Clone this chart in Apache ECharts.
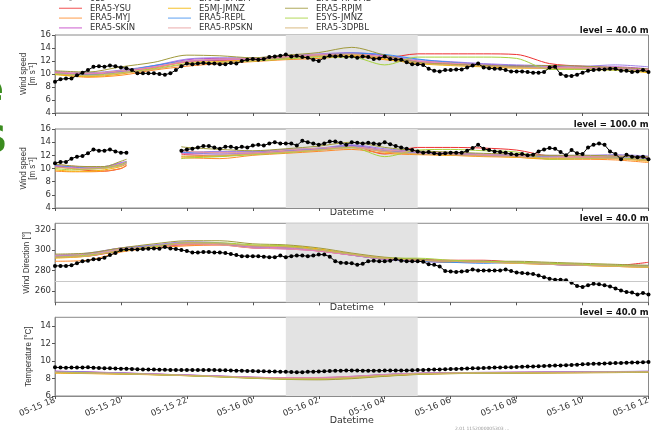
<!DOCTYPE html>
<html>
<head>
<meta charset="utf-8">
<script src="https://cdn.jsdelivr.net/npm/echarts@6/dist/echarts.min.js"></script>
<style>
html,body{margin:0;padding:0;background:#fff;}
#chart{width:654px;height:432px;}
</style>
</head>
<body>
<div id="chart"></div>
<script>
// ---- names, colours, legend layout ----
const MODEL_NAMES = ['ERA5-YSU','ERA5-MYJ','ERA5-SKIN','ERA5-UMEM','E5MJ-JMNZ','ERA5-REPL',
                     'ERA5-RPSKN','ERA5-RPUML','ERA5-RPJM','E5YS-JMNZ','ERA5-3DPBL'];
const MODEL_COLORS = ['#ee3030','#ff8a2a','#c23ec4','#9c80e6','#f5b400','#3d8ff0',
                      '#e69a9a','#e27cc0','#a09a3c','#a6d23c','#d2ae6a'];
const LEGEND_COLUMNS = [
  ['obs','ERA5-YSU','ERA5-MYJ','ERA5-SKIN'],
  ['ERA5-UMEM','E5MJ-JMNZ','ERA5-REPL','ERA5-RPSKN'],
  ['ERA5-RPUML','ERA5-RPJM','E5YS-JMNZ','ERA5-3DPBL']
];

// ---- time axis: hours after 05-15 18:00 ----
const START_DAY = 15, START_HOUR = 18;
const X_TICKS_EVERY_H = 2;
const OBS_STEP_H = 1 / 6;               // observations every 10 min
const MODEL_HOURS = [0,1,2,3,4,5,6,7,8,9,10,11,12,13,14,15,16,17,18];
const MODEL_HOURS_100 = [0,0.5,1,1.5,2,2.17,3,3.83,4,5,6,7,8,9,10,11,12,13,14,15,16,17,18];
const SHADE_HOURS = [7, 11];            // 05-16 01:00 – 05:00
const WD_REFERENCE = 270;

// ---- observations (10-min) ----
const OBS_WS40 = [
  8.8, 9.2, 9.3, 9.3, 9.8, 10.2,
  10.6, 11.1, 11.2, 11.1, 11.3, 11.2,
  11.0, 10.9, 10.6, 10.1, 10.1, 10.1,
  10.1, 10.0, 9.9, 10.1, 10.6, 11.2,
  11.6, 11.5, 11.6, 11.7, 11.6, 11.6,
  11.5, 11.5, 11.7, 11.6, 12.0, 12.2,
  12.3, 12.2, 12.3, 12.6, 12.7, 12.8,
  13.0, 12.7, 12.8, 12.6, 12.5, 12.2,
  12.0, 12.5, 12.8, 12.7, 12.8, 12.6,
  12.7, 12.5, 12.7, 12.6, 12.3, 12.4,
  12.7, 12.3, 12.2, 12.2, 11.8, 11.5,
  11.5, 11.4, 10.8, 10.5, 10.4, 10.6,
  10.6, 10.7, 10.7, 11.0, 11.3, 11.6,
  11.0, 10.9, 10.8, 10.8, 10.6, 10.4,
  10.4, 10.4, 10.3, 10.2, 10.2, 10.3,
  11.0, 11.1, 10.0, 9.7, 9.7, 9.9,
  10.2, 10.5, 10.6, 10.7, 10.7, 10.8,
  10.8, 10.5, 10.5, 10.3, 10.4, 10.6,
  10.3
];
const OBS_WS100 = [
  10.8, 11.0, 11.0, 11.5, 11.8, 11.9,
  12.3, 12.9, 12.7, 12.7, 12.9, 12.6,
  12.4, 12.4, null, null, null, null,
  null, null, null, null, null, 12.7,
  12.9, 13.0, 13.2, 13.4, 13.4, 13.2,
  13.0, 13.3, 13.3, 13.1, 13.3, 13.2,
  13.5, 13.6, 13.5, 13.8, 14.0, 13.8,
  13.8, 13.8, 13.5, 14.2, 14.0, 13.8,
  13.6, 13.8, 14.1, 14.1, 13.9, 13.6,
  14.0, 13.9, 13.8, 13.9, 13.8, 13.7,
  14.0, 13.7, 13.4, 13.2, 13.0, 12.8,
  12.6, 12.4, 12.5, 12.3, 12.2, 12.3,
  12.4, 12.4, 12.4, 12.7, 13.1, 13.6,
  13.0, 12.8, 12.6, 12.5, 12.4, 12.2,
  12.1, 12.2, 12.0, 12.1, 12.6, 12.9,
  13.1, 13.0, 12.5, 12.0, 12.8, 12.3,
  12.2, 13.2, 13.6, 13.8, 13.6, 12.6,
  12.2, 11.4, 12.1, 11.8, 11.7, 11.8,
  11.4
];
const OBS_WD40 = [
  284.5, 284.5, 284.5, 285, 287, 289,
  289.5, 291, 291, 292.5, 295, 297,
  300, 300.5, 300.5, 300.5, 301, 301.3,
  301.5, 301.3, 302.8, 301.5, 301, 300,
  299, 297.5, 297.5, 298, 298, 297.5,
  297.5, 297, 296, 295, 294, 294,
  294, 294, 293.5, 293, 293, 294.5,
  293, 294, 294.5, 294.5, 294, 294.5,
  295.5, 295.5, 293.5, 289, 287.5, 287.3,
  287, 285.5, 286.5, 289, 289.5, 289,
  289, 289.5, 291, 289.5, 289, 289,
  289, 288.5, 286, 285.5, 284, 279.5,
  279, 278.5, 279, 279.5, 281, 280,
  280, 280, 280, 280, 281, 279.5,
  278, 277.5, 277, 276.5, 275, 273.5,
  272, 271, 271, 270.5, 268, 265,
  264, 265.5, 267, 266.5, 265.5, 264.5,
  262.5, 260.5, 259, 258.5, 256.5, 258,
  256.5
];
const OBS_T40 = [
  9.28, 9.25, 9.24, 9.26, 9.25, 9.27,
  9.28, 9.24, 9.20, 9.18, 9.16, 9.15,
  9.13, 9.12, 9.10, 9.06, 9.04, 9.03,
  9.02, 9.00, 8.99, 8.98, 8.97, 8.96,
  8.98, 8.97, 8.97, 8.96, 8.98, 8.97,
  8.95, 8.94, 8.92, 8.90, 8.88, 8.87,
  8.85, 8.84, 8.82, 8.80, 8.79, 8.77,
  8.76, 8.74, 8.72, 8.73, 8.76, 8.78,
  8.80, 8.82, 8.85, 8.88, 8.90, 8.92,
  8.93, 8.92, 8.90, 8.90, 8.89, 8.90,
  8.91, 8.92, 8.93, 8.92, 8.93, 8.94,
  8.96, 8.98, 9.00, 9.02, 9.04, 9.06,
  9.08, 9.10, 9.12, 9.14, 9.16, 9.18,
  9.20, 9.22, 9.25, 9.27, 9.28, 9.30,
  9.32, 9.34, 9.36, 9.38, 9.40, 9.43,
  9.45, 9.48, 9.50, 9.53, 9.55, 9.58,
  9.62, 9.65, 9.68, 9.70, 9.72, 9.74,
  9.76, 9.78, 9.80, 9.82, 9.84, 9.86,
  9.90
];

// ---- model runs (hourly; rows follow MODEL_NAMES) ----
const MOD_WS40 = [
  [10.3, 9.9,10.4,11.0,11.9,12.1,12.2,12.6,12.9,13.1,12.5,13.1,13.1,13.1,13.0,11.6,11.2,10.9,10.6],
  [10.0, 9.5, 9.8,10.6,11.2,11.6,11.9,12.2,12.4,12.7,12.2,11.7,11.5,11.2,11.0,10.9,10.8,10.7,10.3],
  [10.2,10.0,10.5,11.2,12.2,12.4,12.4,12.8,13.0,13.2,12.8,12.0,11.8,11.5,11.3,11.2,11.0,11.1,10.8],
  [10.4,10.2,10.6,11.3,12.3,12.5,12.5,12.8,13.1,13.3,12.9,12.2,11.9,11.6,11.4,11.3,11.2,11.4,11.1],
  [ 9.9, 9.6,10.0,10.9,11.8,11.9,12.2,12.4,12.7,12.9,12.3,11.6,11.3,11.1,10.9,10.9,10.7,10.6,10.2],
  [10.1, 9.9,10.4,11.3,12.0,12.2,12.3,12.5,12.9,13.2,13.0,12.3,11.8,11.4,11.2,11.0,10.9,10.8,10.5],
  [10.3,10.1,10.5,11.1,12.0,12.3,12.4,12.7,13.0,13.1,12.6,12.0,11.7,11.4,11.1,11.0,11.0,10.9,10.6],
  [10.2,10.0,10.3,11.0,11.9,12.2,12.3,12.6,12.9,13.0,12.6,11.9,11.6,11.3,11.1,10.9,10.9,10.9,10.6],
  [10.5,10.3,11.1,11.8,12.9,12.8,12.5,12.9,13.3,14.1,12.9,11.8,11.5,11.3,11.2,11.3,11.2,11.0,10.8],
  [10.0, 9.8,10.2,10.8,11.6,11.8,12.0,12.3,12.6,12.6,11.4,12.6,12.6,12.6,12.4,10.7,10.7,10.6,10.4],
  [10.1, 9.7,10.1,10.7,11.5,11.8,12.1,12.5,12.8,13.0,12.5,11.7,11.4,11.2,11.0,10.9,10.8,10.7,10.4]
];
const MOD_WS100 = [
  [10.3,10.0, 9.7, 9.6,10.0,10.5,null,12.2,12.1,11.9,12.3,12.7,13.0,13.4,12.2,13.2,13.2,13.1,12.8,11.9,11.8,11.6,11.2],
  [ 9.6, 9.5, 9.5, 9.6,10.0,10.4,null,11.6,11.6,11.5,12.0,12.3,12.6,12.9,12.3,12.1,12.0,11.8,11.7,11.4,11.4,11.3,10.9],
  [10.4,10.2,10.1,10.2,10.8,11.0,null,12.4,12.3,12.5,12.5,12.8,13.0,13.5,12.8,12.5,12.3,12.1,12.0,11.9,11.8,11.9,11.7],
  [10.5,10.3,10.2,10.3,10.9,11.1,null,12.6,12.5,12.6,12.6,12.9,13.1,13.6,13.0,12.6,12.4,12.2,12.1,12.0,12.0,12.1,11.9],
  [ 9.8, 9.6, 9.6, 9.8,10.3,10.7,null,11.8,11.8,11.9,12.2,12.5,12.8,13.3,12.5,12.2,12.0,11.9,11.7,11.5,11.6,11.5,11.1],
  [10.4,10.3,10.1,10.1,10.6,10.9,null,12.5,12.4,12.2,12.4,12.7,13.0,13.4,12.7,12.4,12.2,12.0,11.9,11.8,11.8,11.7,11.5],
  [10.6,10.4,10.2,10.2,10.7,11.0,null,12.7,12.6,12.4,12.4,12.8,13.1,13.3,12.8,12.5,12.3,12.1,12.0,11.9,11.8,11.8,11.6],
  [10.3,10.1,10.0,10.1,10.5,10.8,null,12.3,12.2,12.2,12.3,12.6,12.9,13.2,12.6,12.3,12.1,12.0,11.8,11.7,11.7,11.6,11.4],
  [10.7,10.4,10.3,10.3,11.1,11.4,null,13.3,13.2,12.9,12.7,13.0,13.4,14.0,13.2,12.7,12.5,12.3,12.2,12.0,12.0,11.9,11.8],
  [10.0, 9.8, 9.9,10.1,10.6,11.0,null,11.5,11.6,11.8,12.1,12.4,12.8,13.2,11.8,12.8,12.9,12.7,12.5,11.4,11.5,11.6,11.3],
  [10.2,10.0, 9.9,10.0,10.4,10.7,null,11.9,11.9,12.0,12.2,12.5,12.8,13.1,12.6,12.2,12.1,11.9,11.8,11.6,11.6,11.5,11.2]
];
const MOD_WD40 = [
  [293,294,299,303,305,305,303,303,300,296,292,291,290,290,288,287,286,285,288],
  [289,290,298,302,304,305,302,302,299,295,291,290,288,288,287,286,285,284,283],
  [294,296,302,304,307,306,302,301,299,295,291,289,288,289,288,286,285,285,284],
  [295,297,302,305,308,307,304,302,300,296,292,291,289,289,288,287,286,285,285],
  [292,294,300,303,306,306,304,304,301,296,292,290,288,288,287,286,285,284,283],
  [294,296,301,304,307,306,303,302,300,295,291,289,288,287,288,286,285,285,284],
  [295,296,301,303,306,305,302,301,299,295,292,290,289,289,288,287,286,285,284],
  [294,295,300,303,306,306,303,302,299,295,291,290,289,288,288,286,285,285,284],
  [296,297,302,306,309,309,306,305,302,297,293,291,289,289,289,288,287,286,285],
  [293,295,299,303,307,307,305,304,300,296,292,292,290,289,288,287,286,285,284],
  [293,294,300,304,307,306,304,303,300,296,292,290,289,288,287,286,285,284,283]
];
const MOD_T40 = [
  [8.80,8.72,8.62,8.50,8.38,8.25,8.12,8.05,8.05,8.20,8.42,8.58,8.65,8.68,8.70,8.72,8.74,8.76,8.80],
  [8.65,8.58,8.52,8.45,8.35,8.22,8.08,7.98,7.95,8.08,8.30,8.50,8.58,8.62,8.64,8.66,8.68,8.70,8.72],
  [8.85,8.75,8.65,8.52,8.40,8.28,8.15,8.08,8.08,8.22,8.45,8.60,8.66,8.70,8.72,8.74,8.76,8.78,8.82],
  [8.82,8.74,8.64,8.52,8.40,8.28,8.15,8.08,8.10,8.25,8.46,8.60,8.67,8.70,8.72,8.75,8.77,8.80,8.84],
  [8.62,8.56,8.50,8.42,8.32,8.20,8.05,7.95,7.92,8.05,8.28,8.48,8.56,8.60,8.62,8.64,8.66,8.68,8.70],
  [8.78,8.70,8.60,8.48,8.36,8.24,8.10,8.02,8.02,8.18,8.40,8.56,8.63,8.66,8.68,8.70,8.72,8.74,8.78],
  [8.75,8.68,8.60,8.50,8.38,8.26,8.14,8.10,8.12,8.25,8.44,8.58,8.64,8.67,8.69,8.71,8.73,8.75,8.78],
  [8.74,8.66,8.58,8.47,8.36,8.24,8.12,8.06,8.07,8.20,8.42,8.57,8.63,8.66,8.68,8.70,8.72,8.74,8.77],
  [8.70,8.62,8.54,8.44,8.32,8.18,8.02,7.90,7.85,7.98,8.25,8.46,8.55,8.60,8.62,8.64,8.66,8.68,8.70],
  [8.72,8.64,8.56,8.46,8.34,8.20,8.06,7.96,7.95,8.10,8.34,8.52,8.60,8.64,8.66,8.68,8.70,8.72,8.75],
  [8.68,8.60,8.53,8.44,8.34,8.22,8.08,8.00,7.98,8.12,8.35,8.52,8.60,8.63,8.65,8.67,8.69,8.71,8.74]
];

// ---- panel layout ----
const FONT = 'DejaVu Sans';
const PLOT_LEFT = 55, PLOT_RIGHT = 648.5;
const panels = [
  { top: 35,    height: 78,   min: 4,   max: 16,  ticks: [4,6,8,10,12,14,16],
    obs: OBS_WS40,  models: MOD_WS40,  modelT: MODEL_HOURS,     level: 'level = 40.0 m',
    yName: ['Wind speed', '[m s\u207B\u00B9]'], datetime: false },
  { top: 129,   height: 79,   min: 4,   max: 16,  ticks: [4,6,8,10,12,14,16],
    obs: OBS_WS100, models: MOD_WS100, modelT: MODEL_HOURS_100, level: 'level = 100.0 m',
    yName: ['Wind speed', '[m s\u207B\u00B9]'], datetime: true },
  { top: 223.3, height: 79,   min: 249, max: 326, ticks: [260,280,300,320],
    obs: OBS_WD40,  models: MOD_WD40,  modelT: MODEL_HOURS,     level: 'level = 40.0 m',
    yName: ['Wind Direction [\u00B0]'], datetime: true, refLine: WD_REFERENCE },
  { top: 317.3, height: 78.7, min: 6,   max: 15,  ticks: [6,8,10,12,14],
    obs: OBS_T40,   models: MOD_T40,   modelT: MODEL_HOURS,     level: 'level = 40.0 m',
    yName: ['Temperature [\u00B0C]'], datetime: true, tickLabels: true }
];

function timeLabel(v) {
  const h = START_HOUR + v;
  const day = START_DAY + Math.floor(h / 24);
  const hh = h % 24;
  return '05-' + String(day).padStart(2, '0') + ' ' + String(hh).padStart(2, '0');
}

const grid = [], xAxis = [], yAxis = [], series = [], graphic = [];

panels.forEach((p, k) => {
  grid.push({ left: PLOT_LEFT, width: PLOT_RIGHT - PLOT_LEFT, top: p.top, height: p.height,
              show: true, borderColor: '#8a8a8a', borderWidth: 1, backgroundColor: 'transparent' });
  xAxis.push({
    type: 'value', gridIndex: k, min: 0, max: 18, interval: X_TICKS_EVERY_H,
    splitLine: { show: false },
    axisLine: { show: true, lineStyle: { color: '#8a8a8a' } },
    axisTick: { show: true, length: 3, lineStyle: { color: '#555' } },
    axisLabel: { show: !!p.tickLabels, formatter: timeLabel, rotate: 22, fontSize: 8.5,
                 fontFamily: FONT, color: '#333', margin: 4 },
    name: p.datetime ? 'Datetime' : '', nameLocation: 'middle',
    nameGap: p.tickLabels ? 20 : 0, nameMoveOverlap: false,
    nameTextStyle: { fontSize: 9.5, fontFamily: FONT, color: '#333', verticalAlign: 'top' }
  });
  yAxis.push({
    type: 'value', gridIndex: k, min: p.min, max: p.max,
    splitLine: { show: false },
    axisLine: { show: true, lineStyle: { color: '#8a8a8a' } },
    axisTick: { show: true, length: 3, customValues: p.ticks, lineStyle: { color: '#555' } },
    axisLabel: { customValues: p.ticks, fontSize: 8.5, fontFamily: FONT, color: '#333', margin: 4 }
  });

  // shaded period + reference line
  const helper = {
    type: 'line', name: 'shade' + k, xAxisIndex: k, yAxisIndex: k, data: [], z: 1, silent: true,
    markArea: { silent: true, itemStyle: { color: '#e3e3e3' },
                data: [[{ xAxis: SHADE_HOURS[0] }, { xAxis: SHADE_HOURS[1] }]] }
  };
  if (p.refLine !== undefined) {
    helper.markLine = { silent: true, symbol: 'none', label: { show: false },
                        lineStyle: { color: '#c8c8c8', width: 1, type: 'solid' },
                        data: [{ yAxis: p.refLine }] };
  }
  series.push(helper);

  p.models.forEach((vals, m) => {
    series.push({
      type: 'line', name: MODEL_NAMES[m], xAxisIndex: k, yAxisIndex: k,
      data: p.modelT.map((t, j) => [t, vals[j]]),
      symbol: 'none', smooth: 0.3, z: 2,
      lineStyle: { width: 1, color: MODEL_COLORS[m] }, itemStyle: { color: MODEL_COLORS[m] }
    });
  });
  series.push({
    type: 'line', name: 'obs', xAxisIndex: k, yAxisIndex: k,
    data: p.obs.map((v, i) => [i * OBS_STEP_H, v]),
    symbol: 'circle', symbolSize: 4, z: 3,
    lineStyle: { width: 1, color: '#000' }, itemStyle: { color: '#000' }
  });

  // level caption
  graphic.push({ type: 'text', x: PLOT_RIGHT, y: p.top - 4.5,
    style: { text: p.level, font: 'bold 8.5px "DejaVu Sans"', fill: '#111',
             align: 'right', verticalAlign: 'middle', textAlign: 'right', textVerticalAlign: 'middle' } });

  // y-axis title (narrow, rotated)
  const cy = p.top + p.height / 2;
  const xs = p.yName.length === 2 ? [23.5, 32] : [k === 2 ? 26 : 28.5];
  p.yName.forEach((txt, j) => {
    graphic.push({ type: 'text', x: xs[j], y: cy, rotation: Math.PI / 2, scaleX: 0.84,
      style: { text: txt, font: '9.5px "Liberation Sans"', fill: '#333',
               align: 'center', verticalAlign: 'middle', textAlign: 'center', textVerticalAlign: 'middle' } });
  });
});

// green lettering at the left edge and a tiny footnote
graphic.push({ type: 'text', x: -22, y: 91,
  style: { text: 'e', font: 'bold 38px "DejaVu Sans"', fill: '#3b8c1f', align: 'left', verticalAlign: 'middle',
           textAlign: 'left', textVerticalAlign: 'middle' } });
graphic.push({ type: 'text', x: -20, y: 142,
  style: { text: 'S', font: 'bold 38px "DejaVu Sans"', fill: '#3b8c1f', align: 'left', verticalAlign: 'middle',
           textAlign: 'left', textVerticalAlign: 'middle' } });
graphic.push({ type: 'text', x: 455, y: 429,
  style: { text: '2.01 1152000005303 ...', font: '4.5px "DejaVu Sans"', fill: '#999', align: 'left',
           verticalAlign: 'middle', textAlign: 'left', textVerticalAlign: 'middle' } });

// legend: thin line keys for the model runs, line + dot for the observations
const LINE_KEY = 'path://M0,0H23V1.3H0Z';
const OBS_KEY = 'path://M0,2H23V3H0Z M9.5,2.5A2,2,0,1,1,13.5,2.5A2,2,0,1,1,9.5,2.5Z';
const legendLeft = [59, 168, 285];
const legend = LEGEND_COLUMNS.map((col, k) => ({
  data: col.map(n => ({ name: n, icon: n === 'obs' ? OBS_KEY : LINE_KEY })),
  orient: 'vertical', left: legendLeft[k], top: -6, padding: 0,
  itemGap: 0.8, itemWidth: 23, itemHeight: 10, selectedMode: false, symbolKeepAspect: true,
  itemStyle: { opacity: 0.65 },
  textStyle: { fontSize: 8.5, fontFamily: FONT, color: '#333', padding: [0, 0, 0, 3] }
}));

const chart = echarts.init(document.getElementById('chart'), null, { renderer: 'canvas' });
chart.setOption({
  animation: false,
  backgroundColor: '#ffffff',
  legend, grid, xAxis, yAxis, series, graphic
});
</script>
</body>
</html>
